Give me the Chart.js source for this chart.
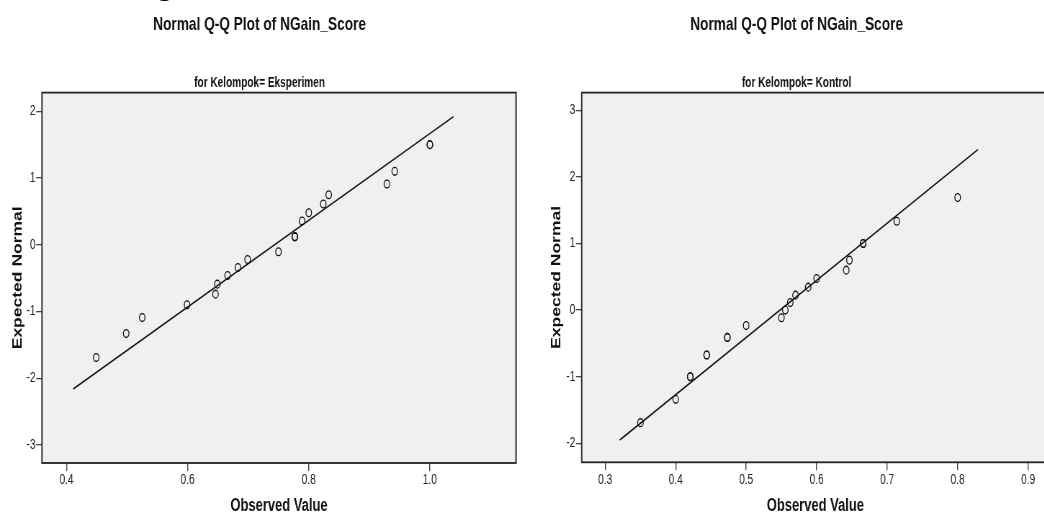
<!DOCTYPE html>
<html>
<head>
<meta charset="utf-8">
<script src="https://cdn.jsdelivr.net/npm/chart.js@4/dist/chart.umd.min.js"></script>
<style>
  html, body { margin: 0; padding: 0; width: 1044px; height: 514px; overflow: hidden; background: #fff; }
  canvas { position: absolute; top: 0; transform-origin: 0 0; transform: scaleX(0.72); }
  #grafEks { left: 0; }
  #grafKon { left: 520px; }
  #corte { position: absolute; z-index: 5; left: 157px; top: -30px; font: 30px/30px 'Liberation Serif', serif; color: #000; }
</style>
</head>
<body>
<canvas id="grafEks" width="722" height="514"></canvas>
<canvas id="grafKon" width="740" height="514"></canvas>
<span id="corte">g</span>
<script>
// datos
var titulo = 'Normal Q-Q Plot of NGain_Score';
var subEks = 'for Kelompok= Eksperimen';
var subKon = 'for Kelompok= Kontrol';
var tituloX = 'Observed Value';
var tituloY = 'Expected Normal';

// Eksperimen
var eksObserved = [0.449, 0.4985, 0.525, 0.599, 0.646, 0.649, 0.666, 0.683, 0.699, 0.750, 0.777, 0.777, 0.777, 0.789, 0.800, 0.824, 0.833, 0.929, 0.942, 1.000, 1.000];
var eksExpected = [-1.69, -1.33, -1.09, -0.90, -0.74, -0.59, -0.46, -0.34, -0.22, -0.105, 0.12, 0.12, 0.12, 0.355, 0.48, 0.61, 0.75, 0.91, 1.10, 1.50, 1.50];
var eksLineaX = [0.411, 1.039];
var eksLineaY = [-2.16, 1.92];
var eksTicksX = [0.4, 0.6, 0.8, 1.0];
var eksTicksY = [-3, -2, -1, 0, 1, 2];

// Kontrol
var konObserved = [0.350, 0.400, 0.4207, 0.4207, 0.444, 0.444, 0.4733, 0.4733, 0.500, 0.550, 0.5555, 0.5625, 0.570, 0.588, 0.600, 0.642, 0.6465, 0.666, 0.666, 0.7137, 0.800];
var konExpected = [-1.69, -1.34, -1.00, -1.00, -0.675, -0.675, -0.41, -0.41, -0.23, -0.115, 0.00, 0.115, 0.225, 0.345, 0.475, 0.60, 0.75, 1.00, 1.00, 1.334, 1.69];
var konLineaX = [0.3207, 0.8287];
var konLineaY = [-1.95, 2.41];
var konTicksX = [0.3, 0.4, 0.5, 0.6, 0.7, 0.8, 0.9];
var konTicksY = [-2, -1, 0, 1, 2, 3];

var FUENTE = "'Liberation Sans', Arial, sans-serif";

function puntos(xs, ys) {
    var list = [];
    for (let i = 0; i < xs.length; i++) {
        list = list.concat({x: xs[i], y: ys[i]});
    }
    return list;
}

// fondo gris y marco del area
var marco = {
    id: 'marco',
    beforeDraw: function(chart) {
        var a = chart.chartArea, ctx = chart.ctx;
        ctx.save();
        ctx.fillStyle = '#f0f0f0';
        ctx.fillRect(a.left, a.top, a.right - a.left, a.bottom - a.top);
        ctx.restore();
    },
    afterDraw: function(chart) {
        var a = chart.chartArea, ctx = chart.ctx;
        ctx.save();
        ctx.strokeStyle = '#222';
        ctx.lineWidth = 1.8;
        ctx.strokeRect(a.left, a.top, a.right - a.left, a.bottom - a.top);
        ctx.restore();
    }
};

function grafico(id, c) {
    var ctx = document.getElementById(id).getContext('2d');
    return new Chart(ctx, {
        type: 'scatter',
        data: {
            datasets: [{
                data: puntos(c.obs, c.exp),
                pointRadius: 3.9,
                pointBorderWidth: 1.3,
                pointBackgroundColor: 'rgba(0,0,0,0)',
                pointBorderColor: '#111'
            }, {
                data: puntos(c.lx, c.ly),
                showLine: true,
                pointRadius: 0,
                borderColor: '#111',
                borderWidth: 1.6
            }]
        },
        options: {
            responsive: false,
            animation: false,
            devicePixelRatio: 1,
            layout: { padding: { left: c.padIzq, right: 1, top: 0, bottom: 0 } },
            plugins: {
                legend: { display: false },
                tooltip: { enabled: false },
                title: {
                    display: true, text: titulo, color: '#111',
                    font: { family: FUENTE, size: 19, weight: 'bold', lineHeight: 1.2 },
                    padding: { top: 13.6, bottom: 38.8 }
                },
                subtitle: {
                    display: true, text: c.sub, color: '#111',
                    font: { family: FUENTE, size: 14, weight: 'bold', lineHeight: 1.2 },
                    padding: { top: 0, bottom: 0.6 }
                }
            },
            scales: {
                x: {
                    type: 'linear', position: 'bottom', min: c.xmin, max: c.xmax,
                    afterBuildTicks: function(s) { s.ticks = c.tx.map(v => ({value: v})); },
                    afterFit: function(s) { s.height = c.altoX; },
                    grid: { drawOnChartArea: false, drawTicks: true, tickLength: 8, color: '#444', lineWidth: 1.4 },
                    border: { display: false },
                    ticks: { padding: 1, color: '#222', maxRotation: 0, autoSkip: false,
                             font: { family: FUENTE, size: 14 },
                             callback: function(v) { return Number(v).toFixed(1); } },
                    title: { display: true, text: tituloX, color: '#111',
                             font: { family: FUENTE, size: 18, weight: 'bold', lineHeight: 1 },
                             padding: { top: 0, bottom: -1 } }
                },
                y: {
                    type: 'linear', position: 'left', min: c.ymin, max: c.ymax,
                    afterBuildTicks: function(s) { s.ticks = c.ty.map(v => ({value: v})); },
                    afterFit: function(s) { s.width = c.anchoY; },
                    grid: { drawOnChartArea: false, drawTicks: true, tickLength: 8, color: '#444', lineWidth: 1.3 },
                    border: { display: false },
                    ticks: { padding: 1, color: '#222', autoSkip: false,
                             font: { family: FUENTE, size: 14 },
                             callback: function(v) { return String(v); } },
                    title: { display: true, text: tituloY, color: '#111',
                             font: { family: FUENTE, size: 17.5, weight: 'bold', lineHeight: 1.2 },
                             padding: { top: c.padTitY, bottom: 0 } }
                }
            }
        },
        plugins: [marco]
    });
}

window.addEventListener('load', function(){
    grafico('grafEks', {
        obs: eksObserved, exp: eksExpected, lx: eksLineaX, ly: eksLineaY,
        tx: eksTicksX, ty: eksTicksY, sub: subEks,
        xmin: 0.3595, xmax: 1.1423, ymin: -3.27, ymax: 2.28,
        padIzq: 0, anchoY: 58.3, altoX: 51, padTitY: 14.5
    });
    grafico('grafKon', {
        obs: konObserved, exp: konExpected, lx: konLineaX, ly: konLineaY,
        tx: konTicksX, ty: konTicksY, sub: subKon,
        xmin: 0.2667, xmax: 0.9296, ymin: -2.285, ymax: 3.266,
        padIzq: 29.4, anchoY: 56.3, altoX: 51.7, padTitY: 11.1
    });
});
</script>
</body>
</html>
